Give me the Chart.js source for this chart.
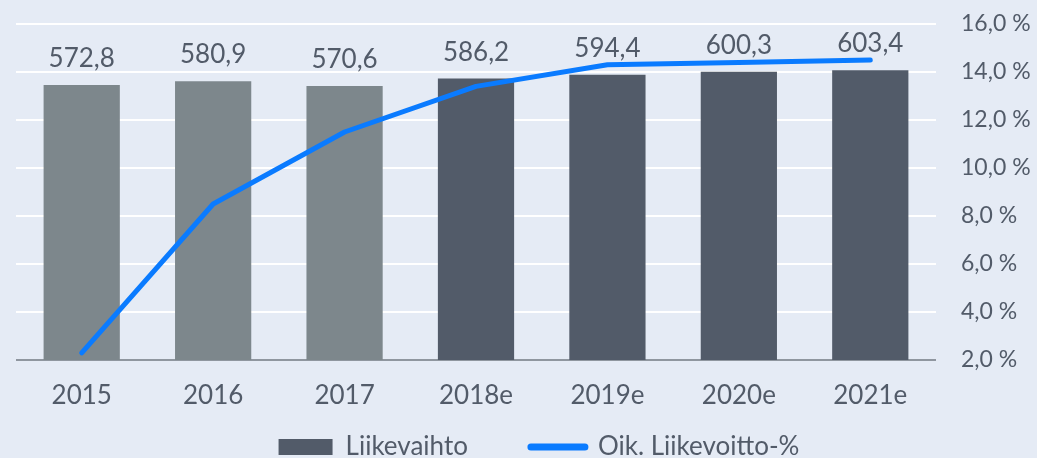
<!DOCTYPE html>
<html>
<head>
<meta charset="utf-8">
<script src="https://cdn.jsdelivr.net/npm/chart.js@4/dist/chart.umd.min.js"></script>
<style>
  html, body { margin: 0; padding: 0; background: #e5ebf5; }
  #wrap { width: 1037px; height: 458px; }
</style>
</head>
<body>
<div id="wrap"><canvas id="chart" width="1037" height="458"></canvas></div>
<script>
'use strict';

var years = ['2015', '2016', '2017', '2018e', '2019e', '2020e', '2021e'];
var revenue = [572.8, 580.9, 570.6, 586.2, 594.4, 600.3, 603.4];
var margin = [2.3, 8.5, 11.5, 13.4, 14.3, 14.4, 14.5];
var marginTicks = [2, 4, 6, 8, 10, 12, 14, 16];

var TEXT = '#525b69';
var GREY = '#7d878c';
var DARK = '#525b69';
var BLUE = '#0a7bff';
var FONT = 'Lato, "Open Sans", sans-serif';

function fi(v) {
  return v.toFixed(1).replace('.', ',');
}

// value labels above each revenue bar
var barLabels = {
  id: 'barLabels',
  afterDatasetsDraw: function(chart) {
    var ctx = chart.ctx;
    var meta = chart.getDatasetMeta(0);
    ctx.save();
    ctx.font = '26px ' + FONT;
    ctx.fillStyle = TEXT;
    ctx.textAlign = 'center';
    ctx.textBaseline = 'alphabetic';
    meta.data.forEach(function(bar, i) {
      ctx.fillText(fi(revenue[i]), bar.x, bar.y - 18);
    });
    ctx.restore();
  }
};

var layoutTweaks = {
  id: 'layoutTweaks',
  afterLayout: function(chart) {
    // year labels hang down into the legend band, don't clip them
    chart.scales.x.bottom = chart.height;
    // legend row sits a bit right of centre
    chart.legend.left += 25;
  }
};

var ctx = document.getElementById('chart').getContext('2d');
var chart = new Chart(ctx, {
  type: 'bar',
  data: {
    labels: years,
    datasets: [{
      type: 'bar',
      label: 'Liikevaihto',
      data: revenue,
      yAxisID: 'y',
      order: 1,
      backgroundColor: years.map(function(y) { return /e$/.test(y) ? DARK : GREY; }),
      borderWidth: 0,
      barPercentage: 0.58,
      categoryPercentage: 1.0
    }, {
      type: 'line',
      label: 'Oik. Liikevoitto-%',
      data: margin,
      yAxisID: 'y1',
      order: 0,
      borderColor: BLUE,
      backgroundColor: BLUE,
      borderWidth: 5,
      borderCapStyle: 'round',
      borderJoinStyle: 'round',
      pointRadius: 0,
      tension: 0
    }]
  },
  options: {
    responsive: false,
    animation: false,
    layout: {padding: {top: 24, left: 16, right: 0, bottom: -12}},
    plugins: {
      tooltip: {enabled: false},
      legend: {
        position: 'bottom',
        labels: {
          usePointStyle: true,
          pointStyleWidth: 54,
          boxHeight: 16,
          padding: 63,
          color: TEXT,
          font: {family: FONT, size: 26, lineHeight: 1},
          sort: function(a, b) { return a.datasetIndex - b.datasetIndex; },
          generateLabels: function(chart) {
            var items = Chart.defaults.plugins.legend.labels.generateLabels(chart);
            items.forEach(function(item) {
              if (item.datasetIndex === 0) {
                item.pointStyle = 'rect';
                item.fillStyle = DARK;
                item.strokeStyle = DARK;
                item.lineWidth = 0;
              } else {
                item.pointStyle = 'line';
                item.strokeStyle = BLUE;
                item.lineWidth = 7;
                item.lineCap = 'round';
              }
            });
            return items;
          }
        }
      }
    },
    scales: {
      x: {
        grid: {display: false, drawTicks: false},
        border: {display: false},
        ticks: {color: TEXT, padding: 20, font: {family: FONT, size: 26}},
        afterFit: function(scale) { scale.height = 11; }
      },
      y: {
        display: false,
        min: 0,
        max: 700
      },
      y1: {
        position: 'right',
        min: marginTicks[0],
        max: marginTicks[marginTicks.length - 1],
        afterBuildTicks: function(scale) {
          scale.ticks = marginTicks.map(function(v) { return {value: v}; });
        },
        grid: {
          drawTicks: false,
          lineWidth: 2,
          color: function(c) { return c.tick && c.tick.value === 2 ? '#8f969f' : '#ffffff'; }
        },
        border: {display: false},
        ticks: {
          color: TEXT,
          padding: 25,
          font: {family: FONT, size: 23},
          callback: function(v) { return fi(v) + ' %'; }
        },
        afterFit: function(scale) {
          scale.width = 101;
          // tick padding is horizontal only here, keep it off the top/bottom
          scale.paddingTop = 0;
          scale.paddingBottom = 0;
        }
      }
    }
  },
  plugins: [barLabels, layoutTweaks]
});
</script>
</body>
</html>
